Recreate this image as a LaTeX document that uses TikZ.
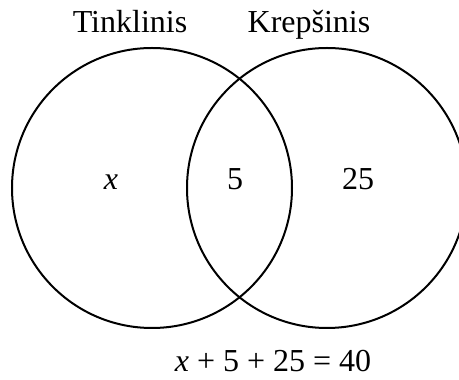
\documentclass[tikz,border=0pt]{standalone}
\usepackage{fontspec}
\setmainfont{Liberation Serif}
\usetikzlibrary{positioning}
\tikzset{
  setline/.style={draw=black, line width=2pt},
  lbl/.style={font=\fontsize{32}{38}\selectfont, inner sep=0pt, anchor=base}
}

\begin{document}
\begin{tikzpicture}[x=1pt, y=1pt]
    \useasboundingbox (0, 0) rectangle (459, 380);
    \clip (0, 0) rectangle (459, 380);

    % --- the two sets ---------------------------------------------------------
    \node[setline, circle, minimum size=280pt, inner sep=0pt] (tinkset) at (152, 192) {};
    \node[setline, circle, minimum size=280pt, inner sep=0pt] (krepset) at (327, 192) {};

    \node[lbl] (tink) at (130, 347) {Tinklinis};
    \node[lbl] (krep) at (309, 347) {Krepšinis};

    % --- counts in each region -----------------------------------------------
    \node[lbl] (onlyt) at (111, 190) {\textit{x}};
    \node[lbl] (both)  at (235, 190) {5};
    \node[lbl] (onlyk) at (358, 190) {25};

    \node[lbl] (eq) at (273, 8) {\textit{x} + 5 + 25 = 40};
\end{tikzpicture}
\end{document}
